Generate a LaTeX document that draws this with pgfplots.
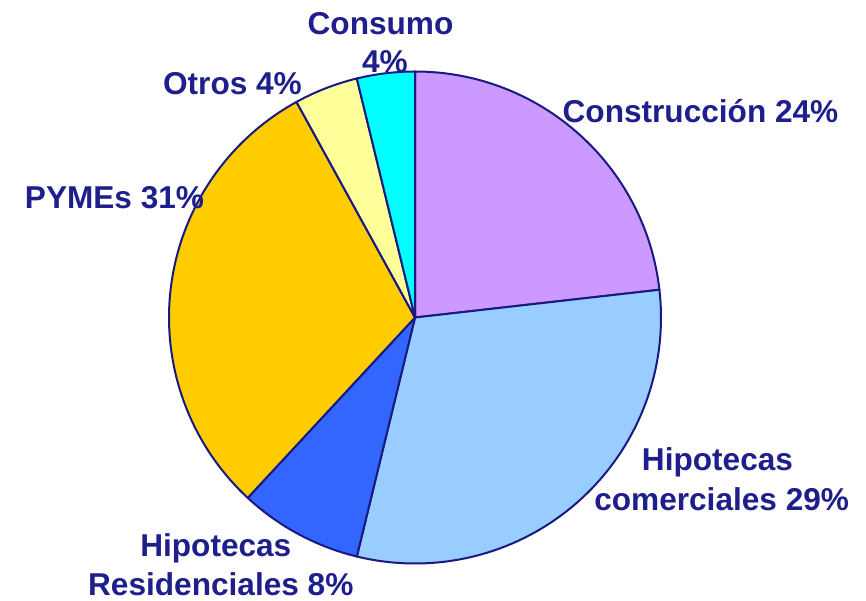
\documentclass[border=0pt]{standalone}
\usepackage{pgfplots}
\pgfplotsset{compat=1.18}
\usepackage{fontspec}
\setmainfont{Liberation Sans}
\definecolor{txt}{RGB}{30,30,140}
\definecolor{edge}{RGB}{25,25,130}
\definecolor{cConstr}{HTML}{CC99FF}
\definecolor{cHC}{HTML}{99CCFF}
\definecolor{cHR}{HTML}{3366FF}
\definecolor{cPY}{HTML}{FFCC00}
\definecolor{cOt}{HTML}{FFFF99}
\definecolor{cCo}{HTML}{00FFFF}
% #1 = cumulative share before slice (%), #2 = share (%), #3 = colour
\newcommand\slice[3]{%
  \filldraw[fill=#3, draw=edge, line width=1pt, line join=round]
    (axis cs:415,282.5) -- ++({90-3.6*(#1)}:123pt)
    arc[start angle={90-3.6*(#1)}, end angle={90-3.6*(#1+#2)}, radius=123pt] -- cycle;}
\newcommand\lab[3]{\node[anchor=base, inner sep=0pt, text=txt,
   font=\fontsize{15.8}{18.5}\selectfont\bfseries] at (axis cs:#1,#2) {#3};}
\begin{document}
\begin{tikzpicture}
\begin{axis}[
  width=433pt, height=300pt, scale only axis,
  xmin=0, xmax=866, ymin=0, ymax=600,
  enlargelimits=false, hide axis, clip=false]
\coordinate (LL) at (axis cs:0,0);
\coordinate (UR) at (axis cs:866,600);
% shares (clockwise from 12 o'clock)
\slice{0}{23.2}{cConstr}
\slice{23.2}{30.6}{cHC}
\slice{53.8}{8.1}{cHR}
\slice{61.9}{30.1}{cPY}
\slice{92.0}{4.2}{cOt}
\slice{96.2}{3.8}{cCo}
\lab{380.5}{565}{Consumo}
\lab{385}{527.3}{4\%}
\lab{232.5}{505}{Otros 4\%}
\lab{700.5}{477.3}{Construcción 24\%}
\lab{114.5}{391.7}{PYMEs 31\%}
\lab{717.5}{129.3}{Hipotecas}
\lab{721.7}{90}{comerciales 29\%}
\lab{215.8}{43.3}{Hipotecas}
\lab{220.8}{5}{Residenciales 8\%}
\end{axis}
\pgfresetboundingbox
\path[use as bounding box] (LL) rectangle (UR);
\end{tikzpicture}
\end{document}
